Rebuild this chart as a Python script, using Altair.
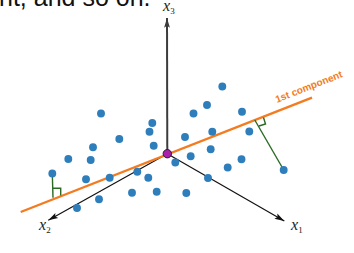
import altair as alt
import pandas as pd
import numpy as np

# ---- data (picture coordinates, y grows downward) ----
pt_x = [101.0, 152.3, 222.3, 207.0, 193.5, 242.0, 52.3, 68.3, 93.0, 90.7,
        119.3, 149.5, 153.7, 86.0, 109.7, 137.3, 148.3, 132.0, 156.7, 99.0,
        77.0, 175.3, 185.0, 212.3, 249.3, 190.7, 210.7, 227.7, 241.5, 208.0,
        186.3, 283.7]
pt_y = [113.5, 123.0, 86.5, 105.0, 113.5, 111.7, 173.5, 159.0, 147.3, 160.0,
        139.0, 131.7, 145.7, 179.3, 177.7, 171.7, 177.7, 192.7, 191.7, 199.3,
        208.0, 162.5, 137.0, 131.7, 131.5, 156.3, 149.3, 167.5, 159.2, 178.0,
        193.0, 170.0]

origin_x, origin_y = 167.3, 153.7
axis_names = ["1", "2", "3"]
axis_tip_x = [284.3, 48.3, 167.0]
axis_tip_y = [221.0, 220.3, 18.0]
axis_label_x = [294.5, 42.5, 166.5]
axis_label_y = [225.0, 224.5, 5.5]

comp_x = [20.7, 312.0]
comp_y = [212.0, 97.7]
comp_label = "1st component"

proj_point_x = [52.3, 283.7]
proj_point_y = [173.5, 170.0]
proj_foot_x = [53.0, 254.8]
proj_foot_y = [197.8, 120.0]
mark_left_x = [52.7, 60.7, 60.7]
mark_left_y = [188.3, 188.3, 195.5]
mark_right_x = [259.0, 265.5, 263.5]
mark_right_y = [126.0, 124.0, 117.5]

caption = "nt, and so on."

# ---- styling ----
BLUE = "#2e7ebc"
ORANGE = "#f47b20"
GREEN = "#2b6a25"
PURPLE = "#ad1fad"

xs = alt.Scale(domain=[0, 354], nice=False, zero=False)
ys = alt.Scale(domain=[0, 253], reverse=True, nice=False, zero=False)
X = lambda f: alt.X(f, type="quantitative", scale=xs, axis=None)
Y = lambda f: alt.Y(f, type="quantitative", scale=ys, axis=None)

# axes rules
axes = pd.DataFrame({
    "x0": [origin_x] * 3, "y0": [origin_y] * 3,
    "x1": axis_tip_x, "y1": axis_tip_y,
    "col": ["#111111", "#111111", "#3c3c3c"],
    "w": [1.2, 1.2, 2.0],
})
dx = np.array(axis_tip_x) - origin_x
dy = np.array(axis_tip_y) - origin_y
axes["ang"] = (np.degrees(np.arctan2(dx, -dy)) + 360) % 360

axis_rules = alt.Chart(axes).mark_rule().encode(
    x=X("x0"), y=Y("y0"), x2="x1", y2="y1",
    color=alt.Color("col:N", scale=None),
    strokeWidth=alt.StrokeWidth("w:Q", scale=None),
)
arrow_shape = "M0,0L0.3,1L0,0.8L-0.3,1Z"
arrows = alt.Chart(axes).mark_point(shape=arrow_shape, filled=True, size=380, opacity=1).encode(
    x=X("x1"), y=Y("y1"),
    angle=alt.Angle("ang:Q", scale=None),
    color=alt.Color("col:N", scale=None),
)

# axis labels
labs = pd.DataFrame({"x": axis_label_x, "y": axis_label_y, "sub": axis_names})
lab_x = alt.Chart(labs).mark_text(text="x", font="Liberation Serif", fontStyle="italic",
                                  fontSize=16, baseline="middle", align="center",
                                  color="#222222").encode(x=X("x"), y=Y("y"))
lab_sub = alt.Chart(labs).mark_text(font="Liberation Serif", fontSize=9, dx=6, dy=5,
                                    baseline="middle", align="center",
                                    color="#222222").encode(x=X("x"), y=Y("y"), text="sub:N")

# first component line
comp = pd.DataFrame({"x": comp_x, "y": comp_y, "o": [0, 1]})
comp_line = alt.Chart(comp).mark_line(color=ORANGE, strokeWidth=2.4).encode(
    x=X("x"), y=Y("y"), order="o:Q")
comp_df = pd.DataFrame({"x": [comp_x[1]], "y": [comp_y[1]], "t": [comp_label]})
ang = (np.degrees(np.arctan2(comp_y[1] - comp_y[0], comp_x[1] - comp_x[0])) + 360) % 360
comp_text = alt.Chart(comp_df).mark_text(
    font="Liberation Sans", fontWeight="bold", fontSize=10, color=ORANGE,
    angle=float(ang), align="center", baseline="bottom", dx=1, dy=-6,
).encode(x=X("x"), y=Y("y"), text="t:N")

# projections
proj = pd.DataFrame({
    "x": proj_point_x + proj_foot_x,
    "y": proj_point_y + proj_foot_y,
    "g": [0, 1, 0, 1], "o": [0, 0, 1, 1],
})
marks = pd.DataFrame({
    "x": mark_left_x + mark_right_x,
    "y": mark_left_y + mark_right_y,
    "g": [2, 2, 2, 3, 3, 3], "o": [0, 1, 2, 0, 1, 2],
})
proj_lines = alt.Chart(pd.concat([proj, marks])).mark_line(color=GREEN, strokeWidth=1.4).encode(
    x=X("x"), y=Y("y"), detail="g:N", order="o:Q")

# points
pts = pd.DataFrame({"x": pt_x, "y": pt_y})
points = alt.Chart(pts).mark_circle(size=62, color=BLUE, opacity=1).encode(x=X("x"), y=Y("y"))

orig = pd.DataFrame({"x": [origin_x], "y": [origin_y]})
origin_pt = alt.Chart(orig).mark_point(shape="circle", filled=True, size=70, fill=PURPLE,
                                      stroke="#222222", strokeWidth=1, opacity=1).encode(
    x=X("x"), y=Y("y"))

cap = alt.Chart(pd.DataFrame({"t": [caption]})).mark_text(
    font="Liberation Sans", fontSize=25, align="left", baseline="alphabetic", color="#111111"
).encode(x=alt.value(-1), y=alt.value(6), text="t:N")

chart = alt.layer(
    axis_rules, arrows, comp_line, proj_lines, points, origin_pt,
    comp_text, lab_x, lab_sub, cap,
).properties(width=354, height=253, padding=0, autosize="none").configure_view(stroke=None)

chart.save("out.html", embed_options={"renderer": "svg", "actions": False})
